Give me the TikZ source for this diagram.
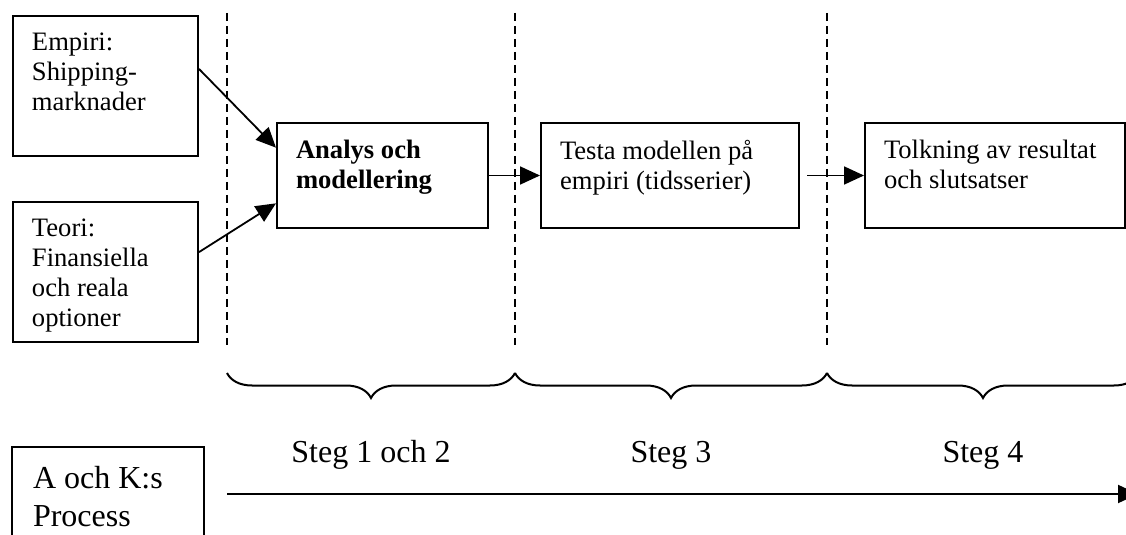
\documentclass[tikz,border=0pt]{standalone}
\usepackage{fontspec}
\setmainfont{Liberation Serif}
\usepackage{tikz}
\usetikzlibrary{arrows.meta, positioning, calc, decorations.pathreplacing}
\tikzset{
  stage_box/.style={draw=black, line width=1pt, anchor=north west, inner xsep=9.5pt, inner ysep=8.5pt, font=\fontsize{13.3}{15}\selectfont},
  process_box/.style={stage_box, inner xsep=10.5pt, inner ysep=9.6pt, font=\fontsize{16}{19}\selectfont},
  flow_arrow/.style={line width=0.9pt, -{Triangle[length=10pt, width=9pt]}},
  phase_divider/.style={line width=0.9pt, dash pattern=on 4pt off 2.5pt},
  phase_brace/.style={line width=1pt, decorate, decoration={brace, amplitude=12.5pt, mirror}},
  phase_label/.style={anchor=base, font=\fontsize{16}{19}\selectfont},
  time_arrow/.style={line width=1pt, -{Triangle[length=10pt, width=9pt]}}
}

\begin{document}
\begin{tikzpicture}[x=0.5pt, y=-0.5pt]
\useasboundingbox (0,0) rectangle (1126,535);
\clip (0,0) rectangle (1126,535);
% input boxes
\node[stage_box] (empiri_box) at (12,15) {\parbox[t][53pt][t]{73.5pt}{Empiri:\\Shipping-\\marknader}};
\node[stage_box] (teori_box) at (12,201) {\parbox[t][53pt][t]{73.5pt}{Teori:\\Finansiella\\och reala\\optioner}};
% steps
\node[stage_box] (analys_box) at (276,122) {\parbox[t][35.5pt][t]{86.5pt}{\bfseries Analys och\\modellering}};
\node[stage_box] (testa_box) at (540,122) {\parbox[t][35.5pt][t]{110pt}{Testa modellen på\\empiri (tidsserier)}};
\node[stage_box] (tolk_box) at (864,122) {\parbox[t][35.5pt][t]{111pt}{Tolkning av resultat\\och slutsatser}};
\draw[flow_arrow] ($(empiri_box.north east)!0.38!(empiri_box.south east)$) -- ($(analys_box.north west)!0.24!(analys_box.south west)$);
\draw[flow_arrow] ($(teori_box.north east)!0.36!(teori_box.south east)$) -- ($(analys_box.north west)!0.76!(analys_box.south west)$);
\draw[flow_arrow] (analys_box.east) -- (testa_box.west);
\draw[flow_arrow, shorten <=3.5pt] (testa_box.east) -- (tolk_box.west);
% phase dividers
\coordinate (div_a_top) at (227,13);
\coordinate (div_a_bot) at (227,345);
\coordinate (div_b_top) at (515,13);
\coordinate (div_b_bot) at (515,345);
\coordinate (div_c_top) at (827,13);
\coordinate (div_c_bot) at (827,345);
\draw[phase_divider] (div_a_top) -- (div_a_bot);
\draw[phase_divider] (div_b_top) -- (div_b_bot);
\draw[phase_divider] (div_c_top) -- (div_c_bot);
% braces and phase names
\coordinate (brace_a) at (227,373);
\coordinate (brace_b) at (515,373);
\coordinate (brace_c) at (827,373);
\coordinate (brace_end) at (1139,373);
\draw[phase_brace] (brace_a) -- (brace_b);
\draw[phase_brace] (brace_b) -- (brace_c);
\draw[phase_brace] (brace_c) -- (brace_end);
\node[phase_label] (steg_12) at (371,462) {Steg 1 och 2};
\node[phase_label] (steg_3) at (671,462) {Steg 3};
\node[phase_label] (steg_4) at (983,462) {Steg 4};
% process timeline
\node[process_box] (process_box) at (11,446) {\parbox[t][45pt][t]{75pt}{A och K:s\\Process}};
\coordinate (time_start) at (227,494);
\coordinate (time_end) at (1138,494);
\draw[time_arrow] (time_start) -- (time_end);
\end{tikzpicture}
\end{document}
